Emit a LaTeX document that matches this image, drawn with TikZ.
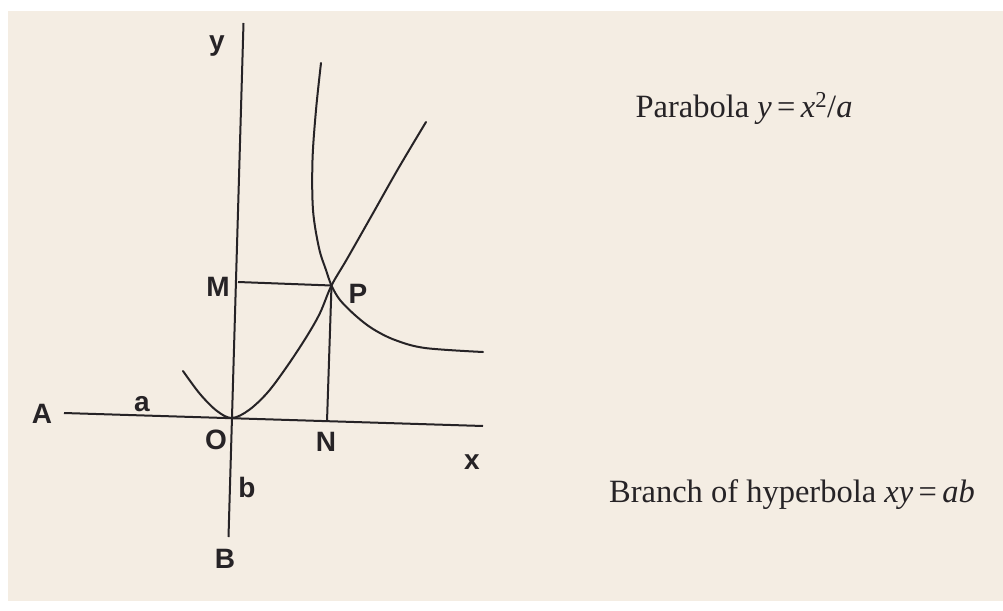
\documentclass[tikz,border=0pt]{standalone}
\usepackage{fontspec}
\setmainfont{Liberation Serif}
\newfontfamily\lblfont{Liberation Sans}
\definecolor{paper}{RGB}{244,237,227}
\definecolor{ink}{RGB}{38,35,38}
\begin{document}
\begin{tikzpicture}[x=1pt,y=-1pt,
  geo/.style={draw=ink,line width=2pt},
  curve/.style={draw=ink,line width=2pt,line cap=round},
  lbl/.style={font=\lblfont\bfseries\fontsize{28}{28}\selectfont,text=ink,anchor=base,inner sep=0pt},
  captext/.style={font=\fontsize{32.5}{32.5}\selectfont,text=ink,anchor=base,inner sep=0pt}]
\useasboundingbox (0,0) rectangle (1003,610);
\fill[white] (0,0) rectangle (1003,610);
\fill[paper] (8,11) rectangle (1003,601);
% axis end points
\coordinate (Astart) at (64,413);
\coordinate (Xend) at (483,426);
\coordinate (Ytop) at (243.5,23);
\coordinate (Bend) at (228.5,537);
\coordinate (Opt) at (232,418);
\coordinate (Mpt) at (238,282);
\coordinate (Ppt) at (331.5,285.5);
\coordinate (Npt) at (327,421.5);
% axes
\draw[geo] (Astart) -- (Xend);
\draw[geo] (Ytop) -- (Bend);
% ordinate and abscissa
\draw[geo] (Mpt) -- (Ppt);
\draw[geo] (Ppt) -- (Npt);
% parabola
\draw[curve] plot[smooth,tension=0.55] coordinates {(183,371) (200,394) (217,411) (232,418) (249,410) (268,392) (288,365) (307,336) (320,313) (331.5,285.5) (347,259) (372,215) (398,169) (426,122)};
% hyperbola branch
\draw[curve] plot[smooth,tension=0.55] coordinates {(321,63) (316,110) (312.5,160) (313,210) (319,248) (326,270) (331.5,285.5) (340,300) (356,316) (373,329) (395,340) (425,348) (483,352)};
% labels
\node[lbl] (ly) at (217,51) {y};
\node[lbl] (lM) at (218,296) {M};
\node[lbl] (lP) at (358,303) {P};
\node[lbl] (lA) at (42,423) {A};
\node[lbl] (la) at (142,411) {a};
\node[lbl] (lO) at (216,449) {O};
\node[lbl] (lN) at (326,451) {N};
\node[lbl] (lx) at (472,469) {x};
\node[lbl] (lb) at (247,497) {b};
\node[lbl] (lB) at (225,568) {B};
\node[captext] (tpar) at (744,117) {Parabola \textit{y}\,=\,\textit{x}\textsuperscript{2}/\textit{a}};
\node[captext] (thyp) at (792,502) {Branch of hyperbola \textit{xy}\,=\,\textit{ab}};
\end{tikzpicture}
\end{document}
